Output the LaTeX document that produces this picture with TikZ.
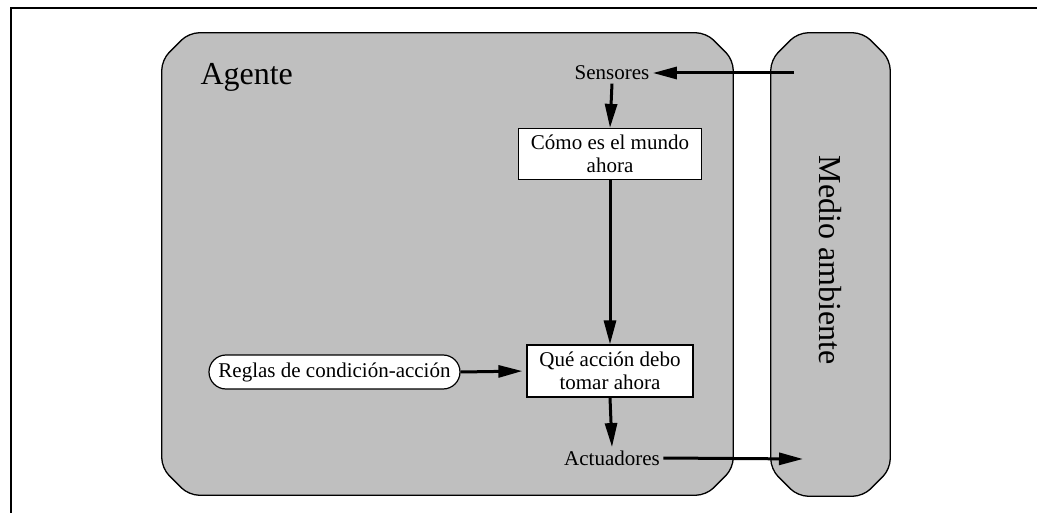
\documentclass[tikz,border=0pt]{standalone}
\usepackage{fontspec}
\setmainfont{Liberation Serif}
\usetikzlibrary{arrows.meta,shapes.misc,calc}
\definecolor{boxgray}{RGB}{191,191,191}
\newcommand{\octbox}[2]{%
  \draw[draw=black,line width=1.3pt,fill=boxgray,rounded corners=10pt]
    ($(#1.north west)+(0,#2)$) -- ($(#1.north west)+(#2,0)$) --
    ($(#1.north east)+(-#2,0)$) -- ($(#1.north east)+(0,#2)$) --
    ($(#1.south east)+(0,-#2)$) -- ($(#1.south east)+(-#2,0)$) --
    ($(#1.south west)+(#2,0)$) -- ($(#1.south west)+(0,-#2)$) -- cycle;}
\begin{document}
\begin{tikzpicture}[x=1pt,y=-1pt,
  region/.style={inner sep=0pt},
  small/.style={font=\fontsize{21}{23}\selectfont},
  large/.style={font=\fontsize{32}{32}\selectfont},
  whitebox/.style={draw=black,line width=1.2pt,fill=white,align=center,inner sep=2pt,small},
  flow/.style={line width=3pt,-{Triangle[length=24pt,width=12pt]}},
]
\useasboundingbox (0,0) rectangle (1037,513);
\draw[line width=1.8pt] (11,513) -- (11,8) -- (1037,8);
% containers
\node[region,minimum width=571pt,minimum height=462pt] (agente) at (447.5,264) {};
\node[region,minimum width=119pt,minimum height=463pt] (medio) at (830.5,264.5) {};
\octbox{agente}{27}
\octbox{medio}{27}
\node[large,anchor=west] (agtxt) at (197,77) {Agente};
\node[large,rotate=-90] (medtxt) at (830,260) {Medio ambiente};
% inner nodes
\node[small] (sens) at (612,73) {Sensores};
\node[whitebox,minimum width=183pt,minimum height=51pt] (como) at (610,154) {C\'omo es el mundo\\ahora};
\node[whitebox,minimum width=166pt,minimum height=52pt] (que) at (610,371) {Qu\'e acci\'on debo\\tomar ahora};
\node[whitebox,rounded rectangle,minimum width=255pt,minimum height=34pt] (reglas) at (334.5,372) {Reglas de condici\'on-acci\'on};
\node[small] (act) at (612,458) {Actuadores};
\coordinate (inp) at (794,73);
\coordinate (outp) at (803,459);
% connectors
\draw[flow] (inp) -- (sens.east);
\draw[flow] (sens.south) -- (como.north);
\draw[flow] (como.south) -- (que.north);
\draw[flow,shorten >=4pt] (reglas.east) -- (que.west);
\draw[flow] (que.south) -- (act.north);
\draw[flow] (act.east) -- (outp);
\end{tikzpicture}
\end{document}
